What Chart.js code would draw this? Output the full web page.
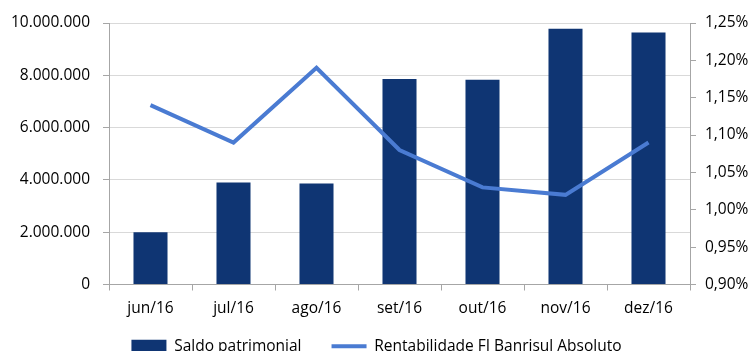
<!DOCTYPE html>
<html>
<head>
<meta charset="utf-8">
<script src="https://cdn.jsdelivr.net/npm/chart.js@4/dist/chart.umd.min.js"></script>
<style>
  html, body { margin: 0; padding: 0; background: #fff; overflow: hidden; }
  #wrap { width: 753px; height: 351px; overflow: hidden; }
</style>
</head>
<body>
<div id="wrap"><canvas id="chart" width="753" height="386"></canvas></div>
<script>
// Données
const meses = ['jun/16', 'jul/16', 'ago/16', 'set/16', 'out/16', 'nov/16', 'dez/16'];
const saldoPatrimonial = [2000000, 3900000, 3860000, 7860000, 7830000, 9780000, 9640000];
const rentabilidade = [1.14, 1.09, 1.19, 1.08, 1.03, 1.02, 1.09];
const nomeSaldo = 'Saldo patrimonial';
const nomeRent = 'Rentabilidade FI Banrisul Absoluto';

const corBarra = '#0f3573';
const corLinha = '#4a7bd2';
const corEixo = '#a6a6a6';
const corGrade = '#d9d9d9';

Chart.defaults.font.family = "'Open Sans', 'Noto Sans', sans-serif";
Chart.defaults.font.size = 15.5;
Chart.defaults.color = '#000';

// 10000000 -> 10.000.000
function milhar(v) {
    return String(Math.round(v)).replace(/\B(?=(\d{3})+(?!\d))/g, '.');
}

// remonte la légende, le padding vertical de la légende est trop grand
const deslocaLegenda = {
    id: 'deslocaLegenda',
    afterLayout(chart) {
        chart.legend.top -= 22;
        chart.legend.bottom -= 22;
    }
};

const ctx = document.getElementById('chart').getContext('2d');
new Chart(ctx, {
    type: 'bar',
    data: {
        labels: meses,
        datasets: [{
            label: nomeRent,
            type: 'line',
            data: rentabilidade,
            yAxisID: 'y2',
            borderColor: corLinha,
            backgroundColor: corLinha,
            borderWidth: 4,
            pointRadius: 0,
            tension: 0,
            order: 0
        }, {
            label: nomeSaldo,
            data: saldoPatrimonial,
            yAxisID: 'y',
            backgroundColor: corBarra,
            barPercentage: 0.41,
            categoryPercentage: 1,
            order: 1
        }]
    },
    plugins: [deslocaLegenda],
    options: {
        responsive: false,
        animation: false,
        layout: { padding: { top: 23, left: 0, right: 0, bottom: 0 } },
        plugins: {
            tooltip: { enabled: false },
            legend: {
                position: 'bottom',
                labels: {
                    usePointStyle: true,
                    pointStyleWidth: 35,
                    boxHeight: 13,
                    padding: 30,
                    generateLabels: () => [
                        { text: nomeSaldo, fillStyle: corBarra, strokeStyle: corBarra, lineWidth: 0, pointStyle: 'rect', datasetIndex: 1 },
                        { text: nomeRent, fillStyle: corLinha, strokeStyle: corLinha, lineWidth: 4, pointStyle: 'line', datasetIndex: 0 }
                    ]
                }
            }
        },
        scales: {
            x: {
                afterFit: s => { s.height = 46; },
                grid: { offset: true, drawOnChartArea: false, tickLength: 6, color: corEixo },
                border: { color: corEixo },
                ticks: { padding: 9 }
            },
            y: {
                position: 'left',
                min: 0,
                max: 10000000,
                afterFit: s => { s.width = 109; },
                grid: { color: corGrade, tickColor: corEixo, tickLength: 6 },
                border: { color: corEixo },
                ticks: { stepSize: 2000000, padding: 13, callback: v => milhar(v) }
            },
            y2: {
                position: 'right',
                min: 0.9,
                max: 1.25,
                afterFit: s => { s.width = 63; },
                grid: { drawOnChartArea: false, tickColor: corEixo, tickLength: 6 },
                border: { color: corEixo },
                ticks: { stepSize: 0.05, padding: 9, callback: v => v.toFixed(2).replace('.', ',') + '%' }
            }
        }
    }
});
</script>
</body>
</html>
